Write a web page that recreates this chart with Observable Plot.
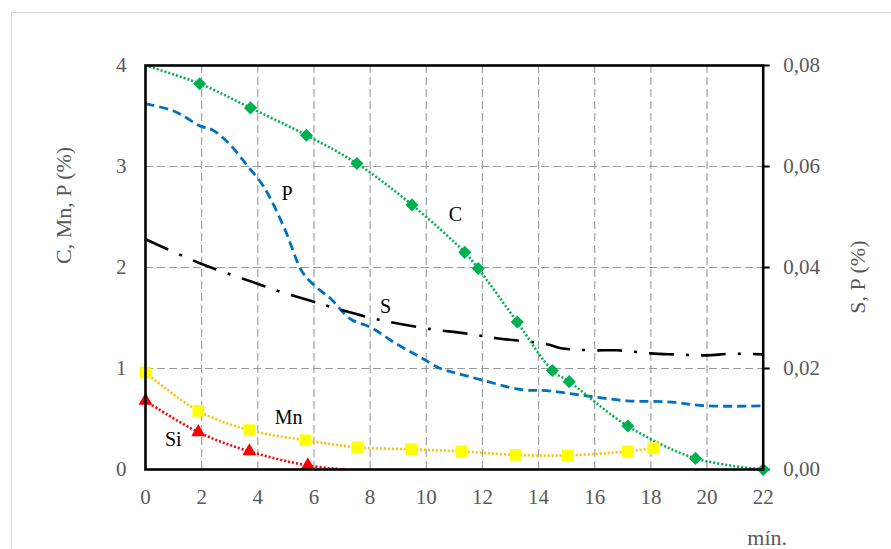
<!DOCTYPE html>
<html>
<head>
<meta charset="utf-8">
<script src="https://cdn.jsdelivr.net/npm/d3@7"></script>
<script src="https://cdn.jsdelivr.net/npm/@observablehq/plot@0.6"></script>
<style>
  html, body { margin: 0; padding: 0; background: white; }
  #wrap { position: relative; width: 891px; height: 549px; overflow: hidden; }
  #border { position: absolute; left: 11px; top: 12px; width: 900px; height: 560px;
            border: 1.5px solid #d9d9d9; box-sizing: border-box; pointer-events: none; }
</style>
</head>
<body>
<div id="wrap"><div id="border"></div></div>
<script>
// ---- data ----
const xTicks = [0, 2, 4, 6, 8, 10, 12, 14, 16, 18, 20, 22];
const leftTicks = [0, 1, 2, 3, 4];
const rightTicks = [0, 0.02, 0.04, 0.06, 0.08];

// C (%) - left axis
const minutesC = [0, 1.93, 3.74, 5.73, 7.53, 9.49, 11.37, 11.85, 13.24, 14.49, 15.09, 17.18, 19.59, 22];
const carbon   = [4.0, 3.82, 3.58, 3.31, 3.03, 2.62, 2.15, 1.99, 1.46, 0.98, 0.87, 0.43, 0.11, 0];
const carbonMarker = [false, true, true, true, true, true, true, true, true, true, true, true, true, true];

// Si (%) - left axis
const minutesSi = [0, 1.88, 3.7, 5.78, 7.1];
const silicon   = [0.68, 0.37, 0.18, 0.04, 0];
const siliconMarker = [true, true, true, true, false];

// Mn (%) - left axis
const minutesMn = [0, 1.88, 3.7, 5.7, 7.54, 9.46, 11.25, 13.18, 15.04, 17.18, 18.08];
const manganese = [0.96, 0.58, 0.39, 0.29, 0.22, 0.20, 0.18, 0.145, 0.14, 0.18, 0.21];

// P (%) - right axis
const minutesP = [0, 1.0, 1.96, 2.4, 3.0, 3.62, 4.21, 4.93, 5.6, 6.11, 6.6, 7.3, 8.0, 8.96, 9.8, 10.5, 11.0, 11.93, 13.4, 14.3, 15.7, 17.15, 18.6, 20.0, 22.0];
const phosphorus = [0.0724, 0.0710, 0.0680, 0.0672, 0.0644, 0.0602, 0.0560, 0.0480, 0.0390, 0.0360, 0.0338, 0.0298, 0.0282, 0.0248, 0.0222, 0.0200, 0.0192, 0.0178, 0.0158, 0.0156, 0.0146, 0.0136, 0.0134, 0.0126, 0.0126];

// S (%) - right axis
const minutesS = [0, 1.96, 3.98, 4.8, 5.88, 6.6, 7.9, 8.7, 10.15, 11.34, 12.5, 14.3, 14.8, 16.0, 16.8, 18.0, 18.8, 20.0, 20.8, 22.0];
const sulfur   = [0.0456, 0.0408, 0.0368, 0.0352, 0.0334, 0.0322, 0.0302, 0.0292, 0.0278, 0.0270, 0.0260, 0.0248, 0.0240, 0.0236, 0.0236, 0.0230, 0.0228, 0.0226, 0.0229, 0.0228];

// series labels (data coordinates, left axis units)
const labelText = ["P", "C", "S", "Mn", "Si"];
const labelX    = [5.04, 11.04, 8.55, 5.1, 0.99];
const labelY    = [2.73, 2.52, 1.61, 0.51, 0.30];

// ---- build tables ----
const leftMax = 4, rightMax = 0.08, k = leftMax / rightMax;
const C  = minutesC.map((x, i) => ({x, y: carbon[i], m: carbonMarker[i]}));
const Si = minutesSi.map((x, i) => ({x, y: silicon[i], m: siliconMarker[i]}));
const Mn = minutesMn.map((x, i) => ({x, y: manganese[i]}));
const P  = minutesP.map((x, i) => ({x, v: phosphorus[i]}));
const S  = minutesS.map((x, i) => ({x, v: sulfur[i]}));
const labels = labelText.map((t, i) => ({t, x: labelX[i], y: labelY[i]}));

const serif = "Liberation Serif, Times New Roman, serif";
const gridStyle = {stroke: "#9a9a9a", strokeOpacity: 1, strokeWidth: 1.1, strokeDasharray: "8,4"};

const chart = Plot.plot({
  width: 891, height: 549,
  marginLeft: 145, marginRight: 128.3, marginTop: 65, marginBottom: 80,
  style: {fontFamily: serif, fontSize: "21px", color: "#595959", background: "white"},
  x: {domain: [0, 22]},
  y: {domain: [0, leftMax]},
  marks: [
    Plot.gridX(xTicks.filter(d => d > 0 && d < 22), gridStyle),
    Plot.gridY(leftTicks.filter(d => d > 0 && d < 4), gridStyle),
    Plot.axisX({ticks: xTicks, tickSize: 0, tickPadding: 20, label: null, fill: "#595959", tickFormat: d => String(d)}),
    Plot.axisY({ticks: leftTicks, tickSize: 0, tickPadding: 19, label: null, fill: "#595959", tickFormat: d => String(d)}),
    Plot.axisY({anchor: "right", ticks: rightTicks.map(v => v * k), tickSize: 6, tickPadding: 14,
                strokeWidth: 2, stroke: "black", fill: "#595959", label: null,
                tickFormat: d => (d / k).toFixed(2).replace(".", ",")}),
    // P and S (right axis)
    Plot.line(P, {x: "x", y: d => d.v * k, stroke: "#0070C0", strokeWidth: 2.8,
                  strokeDasharray: "9,5", strokeLinecap: "butt", curve: "catmull-rom"}),
    Plot.line(S, {x: "x", y: d => d.v * k, stroke: "black", strokeWidth: 2.6,
                  strokeDasharray: "25,12,3,12", strokeLinecap: "butt", curve: "catmull-rom"}),
    // C, Mn, Si (left axis)
    Plot.line(C, {x: "x", y: "y", stroke: "#00B050", strokeWidth: 2.6,
                  strokeDasharray: "2,2", strokeLinecap: "butt", curve: "catmull-rom"}),
    Plot.line(Mn, {x: "x", y: "y", stroke: "#FFC000", strokeWidth: 2.6,
                   strokeDasharray: "2,2", strokeLinecap: "butt", curve: "catmull-rom"}),
    Plot.line(Si, {x: "x", y: "y", stroke: "#FF0000", strokeWidth: 2.6,
                   strokeDasharray: "2,2", strokeLinecap: "butt", curve: "catmull-rom"}),
    Plot.dot(C.filter(d => d.m), {x: "x", y: "y", symbol: "diamond2", r: 5.9, fill: "#00B050", stroke: "none"}),
    Plot.dot(Mn, {x: "x", y: "y", symbol: "square", r: 6.6, fill: "#FFFF00", stroke: "none"}),
    Plot.dot(Si.filter(d => d.m), {x: "x", y: "y", symbol: "triangle", r: 5.2, fill: "#FF0000", stroke: "none"}),
    Plot.frame({stroke: "black", strokeWidth: 2.6}),
    Plot.text(labels, {x: "x", y: "y", text: "t", fill: "black", fontSize: 20, fontFamily: serif}),
    Plot.text(["C, Mn, P (%)"], {frameAnchor: "left", dx: -82, dy: -3.5, rotate: -90,
                                 fill: "#595959", fontSize: 22, fontFamily: serif}),
    Plot.text(["S, P (%)"], {frameAnchor: "right", dx: 95, dy: -27, rotate: -90,
                             fill: "#595959", fontSize: 22, fontFamily: serif}),
    Plot.text(["mín."], {frameAnchor: "bottom-right", dx: 4, dy: 68, textAnchor: "middle", lineAnchor: "middle",
                         fill: "#595959", fontSize: 22, fontFamily: serif})
  ]
});
document.getElementById("wrap").prepend(chart);
</script>
</body>
</html>
